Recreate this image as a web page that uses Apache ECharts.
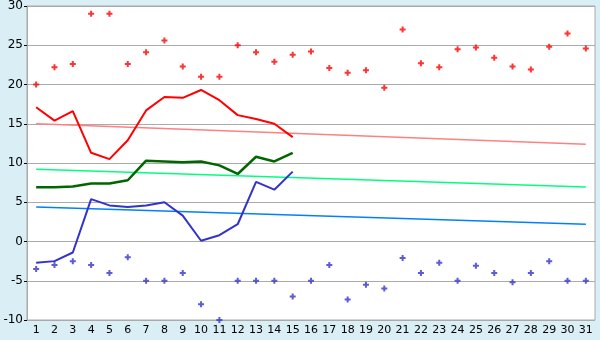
<!DOCTYPE html>
<html><head><meta charset="utf-8">
<script src="https://cdn.jsdelivr.net/npm/echarts@6/dist/echarts.min.js"></script>
<style>html,body{margin:0;padding:0;background:#d9eef5}#c{width:600px;height:340px}</style>
</head><body><div id="c"></div>
<script>
const days = Array.from({length:31},(_,i)=>String(i+1));
const yTicks = [-10,-5,0,5,10,15,20,25,30];
const maxPoints = [20.0,22.2,22.6,29.0,29.0,22.6,24.1,25.6,22.3,21.0,21.0,25.0,24.1,22.9,23.8,24.2,22.1,21.5,21.8,19.6,27.0,22.7,22.2,24.5,24.7,23.4,22.3,21.9,24.8,26.5,24.6];
const minPoints = [-3.5,-3.0,-2.5,-3.0,-4.0,-2.0,-5.0,-5.0,-4.0,-8.0,-10.0,-5.0,-5.0,-5.0,-7.0,-5.0,-3.0,-7.4,-5.5,-6.0,-2.1,-4.0,-2.7,-5.0,-3.1,-4.0,-5.2,-4.0,-2.5,-5.0,-5.0];
const maxLine = [17.1,15.4,16.6,11.3,10.5,12.9,16.7,18.4,18.3,19.3,18.0,16.1,15.6,15.0,13.3];
const meanLine = [6.9,6.9,7.0,7.4,7.4,7.8,10.3,10.2,10.1,10.2,9.7,8.6,10.8,10.2,11.3];
const minLine = [-2.7,-2.5,-1.4,5.4,4.6,4.4,4.6,5.0,3.3,0.1,0.8,2.2,7.6,6.6,8.9];
const maxTrend = [15.0,12.4];
const meanTrend = [9.2,6.95];
const minTrend = [4.4,2.2];
const trendDays = ['1','31'];

const font = 'DejaVu Sans';
const marker = 'path://M2,0H4V2H6V4H4V6H2V4H0V2H2Z';
function trend(vals,color){
  return {type:'line',data:trendDays.map((d,i)=>[d,vals[i]]),symbol:'none',silent:true,
    lineStyle:{color:color,width:1.5},z:2,animation:false};
}
const chart = echarts.init(document.getElementById('c'),null,{renderer:'canvas'});
chart.setOption({
  animation:false,
  backgroundColor:'#d9eef5',
  grid:{left:27,right:5,top:5,bottom:20,show:true,backgroundColor:'#ffffff',borderColor:'#aaaaaa',borderWidth:1},
  xAxis:{type:'category',data:days,boundaryGap:true,
    axisLine:{lineStyle:{color:'#aaaaaa'}},
    axisTick:{alignWithLabel:true,length:4,lineStyle:{color:'#000'}},
    axisLabel:{color:'#000',fontFamily:font,fontSize:11,margin:5,interval:0},
    splitLine:{show:false}},
  yAxis:{type:'value',min:yTicks[0],max:yTicks[yTicks.length-1],interval:5,
    axisLine:{show:true,lineStyle:{color:'#aaaaaa'}},
    axisTick:{show:true,length:3,lineStyle:{color:'#000'}},
    axisLabel:{color:'#000',fontFamily:font,fontSize:12,margin:4},
    splitLine:{lineStyle:{color:'#aaaaaa',width:1}}},
  series:[
    trend(maxTrend,'#ff8080'),
    trend(meanTrend,'#00ff80'),
    trend(minTrend,'#0080ff'),
    {type:'line',data:maxLine,symbol:'none',lineStyle:{color:'#ff0000',width:2},z:3},
    {type:'line',data:meanLine,symbol:'none',lineStyle:{color:'#006600',width:2.5},z:3},
    {type:'line',data:minLine,symbol:'none',lineStyle:{color:'#3333cc',width:2},z:3},
    {type:'scatter',data:maxPoints,symbol:marker,symbolSize:6,itemStyle:{color:'#ff0000'},z:4},
    {type:'scatter',data:minPoints,symbol:marker,symbolSize:6,itemStyle:{color:'#3333cc'},z:4}
  ]
});
</script></body></html>
